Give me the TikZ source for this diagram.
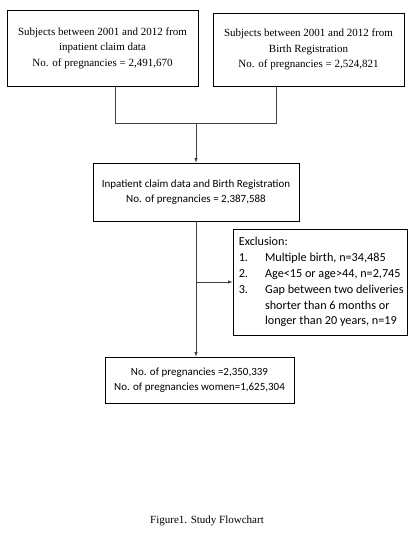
\documentclass[tikz,border=0pt]{standalone}
\usepackage{fontspec}
\setmainfont{Liberation Serif}
\newfontfamily\calib{Carlito}
\usetikzlibrary{arrows.meta}
\begin{document}
\begin{tikzpicture}[x=1pt,y=-1pt,
  box/.style={draw=black,line width=0.8pt,inner sep=0pt,align=center},
  serifbox/.style={box,font=\fontsize{11}{15.5}\selectfont},
  calbox/.style={box,font=\calib\fontsize{11}{15.2}\selectfont},
  conn/.style={draw=black!75,line width=0.7pt},
  arr/.style={conn,-{Latex[length=4.5pt,width=3.5pt]}}]
\useasboundingbox[fill=white] (0,0) rectangle (414,547);
\node[serifbox,minimum width=191pt,minimum height=76pt] (box1) at (102.5,48)
  {Subjects between 2001 and 2012 from\\inpatient claim data\\No. of pregnancies = 2,491,670};
\node[serifbox,minimum width=191pt,minimum height=73pt] (box2) at (308.5,49.5)
  {Subjects between 2001 and 2012 from\\Birth Registration\\No. of pregnancies = 2,524,821};
\node[calbox,minimum width=206pt,minimum height=58pt] (box3) at (196,192)
  {Inpatient claim data and Birth Registration\\No. of pregnancies = 2,387,588};
\node[box,minimum width=174pt,minimum height=106pt] (excl) at (320,282) {};
\node[anchor=north west,inner sep=0pt,font=\calib\fontsize{12.2}{15.8}\selectfont] (excltext)
  at ([xshift=6pt,yshift=-6pt]excl.north west)
  {\begin{tabular}{@{}l@{\hspace{17pt}}l@{}}
   \multicolumn{2}{@{}l}{Exclusion:}\\
   1. & Multiple birth, n=34,485\\
   2. & Age<15 or age>44, n=2,745\\
   3. & Gap between two deliveries\\
      & shorter than 6 months or\\
      & longer than 20 years, n=19
   \end{tabular}};
\node[calbox,minimum width=189pt,minimum height=46pt] (final) at (199.5,380)
  {No. of pregnancies =2,350,339\\No. of pregnancies women=1,625,304};
\node[font=\fontsize{11}{12}\selectfont,inner sep=0pt] (cap) at (207,521) {Figure1. Study Flowchart};
\coordinate (j1) at (115,123);
\coordinate (j2) at (276,123);
\coordinate (jm) at (196,123);
\draw[conn] (box1.south -| j1) -- (j1) -- (j2) -- (box2.south -| j2);
\draw[arr] (jm) -- (box3.north);
\coordinate (k) at (box3.south |- excl.west);
\draw[arr] (box3.south) -- (box3.south |- final.north);
\draw[arr] (k) -- (excl.west);
\end{tikzpicture}
\end{document}
